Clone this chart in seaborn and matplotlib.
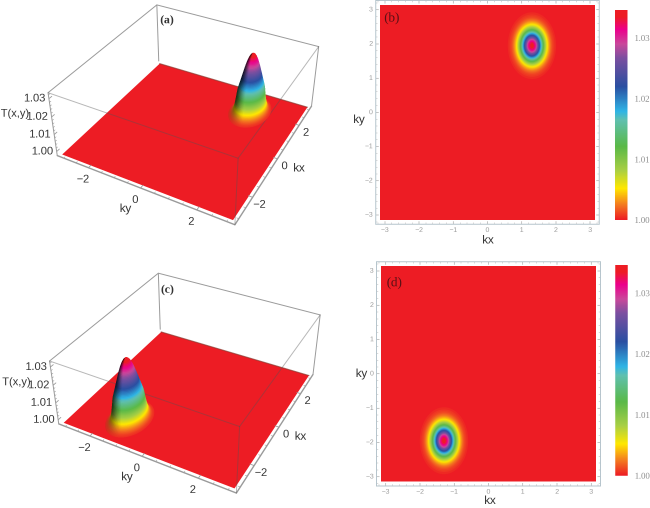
import io
import numpy as np
import seaborn as sns
import matplotlib
matplotlib.use("Agg")
import matplotlib.pyplot as plt
from matplotlib.colors import LinearSegmentedColormap, Normalize
from matplotlib.collections import PolyCollection
from matplotlib.patches import Ellipse

# ---- data ----
colour_values = [1.0, 1.0025, 1.0052, 1.0082, 1.0121, 1.0165, 1.0179, 1.022, 1.0267, 1.029, 1.0314, 1.0335, 1.0346]
colour_names = ["#ED1C24", "#F47B20", "#FFE800", "#A8CF45", "#5AB947", "#5FC0B0", "#2FB5E6", "#2A4FA2",
                "#7B4FA0", "#C9489B", "#EC008C", "#ED1C24", "#ED1C24"]
cbar_ticks = [1.00, 1.01, 1.02, 1.03]
cbar_labels = ["1.00", "1.01", "1.02", "1.03"]
T_min, T_max = 1.0, 1.0346

# contour rings of the peak: height and half-width along the short axis
ring_T = [1.0004, 1.0007, 1.0010, 1.0014, 1.0018, 1.0022, 1.0027, 1.0032, 1.0037, 1.0043, 1.0050, 1.0057, 1.0065,
          1.0074, 1.0083, 1.0092, 1.0102, 1.0112, 1.0123, 1.0134, 1.0146, 1.0158, 1.0170, 1.0182, 1.0194, 1.0206,
          1.0218, 1.0230, 1.0242, 1.0254, 1.0266, 1.0278, 1.0290, 1.0302, 1.0314, 1.0326, 1.0338, 1.0344]
ring_half = [.708, .662, .631, .600, .576, .556, .535, .517, .501, .484, .466, .450, .433,
             .416, .401, .386, .370, .356, .341, .327, .311, .297, .283, .269, .255, .241,
             .228, .214, .200, .186, .172, .157, .141, .124, .104, .082, .051, .026]
ring_aspect = 1.38

peak_b = (1.30, 1.95)     # kx, ky in panel (b)
peak_d = (-1.30, -1.95)   # kx, ky in panel (d)
peak_a = (1.40, 1.90)     # ky, kx in panel (a)
peak_c = (-1.30, -1.95)   # ky, kx in panel (c)

ticks_2d = [-3, -2, -1, 0, 1, 2, 3]
ticks_2d_labels = ["\u22123", "\u22122", "\u22121", "0", "1", "2", "3"]
ticks_3d = [-2, 0, 2]
ticks_3d_labels = ["\u22122", "0", "2"]
ticks_z = [1.00, 1.01, 1.02, 1.03]
ticks_z_labels = ["1.00", "1.01", "1.02", "1.03"]

# ---- layout ----
W, H = 650, 508
BOX = 3.27
Z_LO, Z_HI = 0.99758, 1.03320
corners_px = {   # (ky sign, kx sign, z level) -> pixel position in panel (a)
    (-1, -1, 0): (57.3, 156.0), (1, -1, 0): (235.3, 225.7), (1, 1, 0): (310.5, 105.5), (-1, 1, 0): (159.3, 60.5),
    (-1, -1, 1): (48.3, 92.7), (1, -1, 1): (237.3, 156.7), (1, 1, 1): (320.0, 47.7), (-1, 1, 1): (156.0, 5.0),
}
shift_c = (1.5, 268.3)
surface_drop = 4.0
facet_steps = 2
SUPER = 4

sns.set_theme(style="white")
plt.rcParams["font.family"] = ["Liberation Sans", "DejaVu Sans"]

cmap = LinearSegmentedColormap.from_list(
    "rainbow_t", [((v - T_min) / (T_max - T_min), c) for v, c in zip(colour_values, colour_names)], N=512)
norm = Normalize(T_min, T_max)

fig = plt.figure(figsize=(W / 100, H / 100), dpi=100)
overlay = fig.add_axes([0, 0, 1, 1])
overlay.set_xlim(0, W)
overlay.set_ylim(H, 0)
overlay.axis("off")


def fit_projection():
    rows, rhs = [], []
    for (a, b, c), (u, v) in corners_px.items():
        X = [a, b, 2 * c - 1, 1]
        rows.append(X + [0, 0, 0, 0] + [-u * x for x in X[:3]])
        rhs.append(u)
        rows.append([0, 0, 0, 0] + X + [-v * x for x in X[:3]])
        rhs.append(v)
    p = np.linalg.lstsq(np.array(rows, float), np.array(rhs, float), rcond=None)[0]
    return np.append(p, 1.0).reshape(3, 4)


PROJ = fit_projection()


def project(ky, kx, z, shift=(0, 0)):
    ky, kx, z = np.broadcast_arrays(np.asarray(ky, float), np.asarray(kx, float), np.asarray(z, float))
    X = np.stack([ky / BOX, kx / BOX, 2 * (z - Z_LO) / (Z_HI - Z_LO) - 1, np.ones_like(ky)])
    q = PROJ @ X.reshape(4, -1)
    return np.stack([q[0] / q[2] + shift[0], q[1] / q[2] + shift[1]], axis=-1).reshape(ky.shape + (2,))


def panel3d(peak, tag, tag_xy, shift=(0, 0)):
    grey = "#9a9a9a"
    P = lambda a, b, c: project(a, b, c, shift)
    S = lambda a, b, c: project(a, b, c, (shift[0], shift[1] + surface_drop))

    def seg(p, q, **kw):
        kw.setdefault("color", grey)
        kw.setdefault("lw", 0.7)
        pts = np.array([P(*p), P(*q)])
        overlay.plot(pts[:, 0], pts[:, 1], solid_capstyle="round", **kw)

    B = BOX
    # rear edges of the box
    for p, q in [((-B, B, Z_LO), (-B, B, Z_HI)), ((-B, B, Z_HI), (B, B, Z_HI)), ((-B, B, Z_HI), (-B, -B, Z_HI)),
                 ((-B, -B, Z_LO), (-B, -B, Z_HI)), ((B, B, Z_LO), (B, B, Z_HI))]:
        seg(p, q, zorder=1)
    seg((-B, -B, Z_LO), (B, -B, Z_LO), zorder=1, lw=1.0)
    seg((B, -B, Z_LO), (B, B, Z_LO), zorder=1, lw=1.0)

    # red floor
    fl = [S(-np.pi, -np.pi, 1.0), S(np.pi, -np.pi, 1.0), S(np.pi, np.pi, 1.0), S(-np.pi, np.pi, 1.0)]
    overlay.add_patch(plt.Polygon(fl, closed=True, fc=cmap(norm(1.0)), ec="none", zorder=2))
    # dark back rim of the floor
    rim = np.array([fl[3], fl[2]])
    overlay.plot(rim[:, 0], rim[:, 1], color="#8a3a30", lw=0.8, alpha=0.7, zorder=2.1)

    # front edges seen through the floor
    for p, q in [((-B, -B, Z_HI), (B, -B, Z_HI)), ((B, -B, Z_HI), (B, B, Z_HI)), ((B, -B, Z_LO), (B, -B, Z_HI))]:
        seg(p, q, zorder=2.5, color="#555555", alpha=0.42)

    # peak, drawn from the base upward; the 3D view shows a fuller shoulder than the flat map
    th = np.linspace(0, 2 * np.pi, 73)
    cy, cx = peak
    widths = [h * (1 + min((T - T_min) / (T_max - T_min) * 1.0, 0.42)) for T, h in zip(ring_T, ring_half)]

    def ring(T, h):
        return S(cy + h * np.cos(th), cx + ring_aspect * h * np.sin(th), np.full_like(th, T))

    quads, cols = [], []
    n = len(ring_T) - 1
    for i in range(n):
        strength = 0.12 + 0.62 * min(i / 14, 1.0)
        for f in range(facet_steps):
            a, b = f / facet_steps, (f + 1) / facet_steps
            T0 = ring_T[i] + a * (ring_T[i + 1] - ring_T[i])
            T1 = ring_T[i] + b * (ring_T[i + 1] - ring_T[i])
            h0 = widths[i] + a * (widths[i + 1] - widths[i])
            h1 = widths[i] + b * (widths[i + 1] - widths[i])
            r0, r1 = ring(T0, h0), ring(T1, h1)
            ctr = r0.mean(axis=0)
            span = np.abs(r0[:, 0] - ctr[0]).max()
            rgb = np.array(cmap(norm((T0 + T1) / 2))[:3])
            for j in range(len(th) - 1):
                quads.append([r0[j], r0[j + 1], r1[j + 1], r1[j]])
                s = ((r0[j, 0] + r0[j + 1, 0]) / 2 - ctr[0]) / span
                shade = 1 - strength * np.clip((-s - 0.4) / 0.6, 0, 1) ** 1.5
                cols.append(np.append(rgb * shade, 1.0))
    overlay.add_collection(PolyCollection(quads, facecolors=cols, edgecolors=cols, linewidths=0.2,
                                          antialiaseds=False, zorder=3))
    overlay.add_patch(plt.Polygon(ring(ring_T[-1], widths[-1]), closed=True, fc=cmap(norm(ring_T[-1])), ec="none", zorder=3.1))

    # ticks and their labels
    for t, lab in zip(ticks_3d, ticks_3d_labels):
        seg((t, -B, Z_LO), (t, -B + 0.14, Z_LO), zorder=2.6, lw=0.6)
        u, v = P(t, -B, Z_LO)
        overlay.text(u - 5.5, v + 12, lab, fontsize=8, color="#333333", ha="center", va="center")
        seg((B, t, Z_LO), (B - 0.14, t, Z_LO), zorder=2.6, lw=0.6)
        u, v = P(B, t, Z_LO)
        overlay.text(u + 7, v + 7.5, lab, fontsize=8, color="#333333", ha="center", va="center")
    for t in np.arange(-3, 3.01, 0.5):
        seg((t, -B, Z_LO), (t, -B + 0.07, Z_LO), zorder=2.6, lw=0.4)
        seg((B, t, Z_LO), (B - 0.07, t, Z_LO), zorder=2.6, lw=0.4)
    for t, lab in zip(ticks_z, ticks_z_labels):
        seg((-B, -B, t), (-B, -B + 0.14, t), zorder=1.5, lw=0.6)
        u, v = P(-B, -B, t)
        overlay.text(u - 3.5, v, lab, fontsize=8, color="#333333", ha="right", va="center")
    for t in np.arange(1.0, 1.0321, 0.002):
        seg((-B, -B, t), (-B, -B + 0.07, t), zorder=1.5, lw=0.4)

    lx = 0 + shift[0]
    ly = shift[1]
    overlay.text(lx + 15, ly + 114, "T(x,y)", fontsize=8, color="#333333", ha="center", va="center")
    overlay.text(lx + 125.5, ly + 209, "ky", fontsize=8.5, color="#333333", ha="center", va="center")
    overlay.text(lx + 299, ly + 168.5, "kx", fontsize=8.5, color="#333333", ha="center", va="center")
    overlay.text(tag_xy[0], tag_xy[1], tag, family="Liberation Serif", fontsize=8.5, fontweight="bold",
                 color="#333333", ha="center", va="center")


def cell(k):
    return (np.asarray(k, float) + np.pi) / np.pi


def panel2d(peak, tag, tag_xy, frame, cbar, xlabel_xy, ylabel_xy):
    x0, y0, x1, y1 = frame
    ax = fig.add_axes([x0 / W, 1 - y1 / H, (x1 - x0) / W, (y1 - y0) / H])
    cx0, cy0, cx1, cy1 = cbar
    cax = fig.add_axes([cx0 / W, 1 - cy1 / H, (cx1 - cx0) / W, (cy1 - cy0) / H])
    base = np.full((2, 2), T_min)
    sns.heatmap(base, ax=ax, cbar_ax=cax, cmap=cmap, vmin=T_min, vmax=T_max)
    ax.set_xlim(cell(-BOX), cell(BOX))
    ax.set_ylim(cell(-BOX), cell(BOX))
    ax.set_facecolor("white")
    for T, h in zip(ring_T, ring_half):
        ax.add_patch(Ellipse((cell(peak[0]), cell(peak[1])), 2 * h / np.pi, 2 * h * ring_aspect / np.pi,
                             fc=cmap(norm(T)), ec="none"))
    for sp in ax.spines.values():
        sp.set_visible(True)
        sp.set_color("#b5c4cc")
        sp.set_linewidth(0.7)
    ax.set_xticks(cell(ticks_2d), ticks_2d_labels, rotation=0)
    ax.set_yticks(cell(ticks_2d), ticks_2d_labels, rotation=0)
    minor = cell(np.arange(-3.2, 3.21, 0.2))
    ax.set_xticks(minor, minor=True)
    ax.set_yticks(minor, minor=True)
    ax.tick_params(which="major", direction="in", length=2.2, width=0.4, color="#999999", labelsize=5,
                   labelcolor="#9a9a9a", top=True, right=True, bottom=True, left=True, pad=2)
    ax.tick_params(which="minor", direction="in", length=1.2, width=0.3, color="#aaaaaa",
                   top=True, right=True, bottom=True, left=True)
    ax.set_xlabel("kx", fontsize=8.5, color="#333333")
    ax.set_ylabel("ky", fontsize=8.5, color="#333333", rotation=0, va="center", ha="center")
    ax.xaxis.set_label_coords(*xlabel_xy, transform=overlay.transData)
    ax.yaxis.set_label_coords(*ylabel_xy, transform=overlay.transData)
    ax.xaxis.label.set_va("center")
    ax.text(cell(tag_xy[0]), cell(tag_xy[1]), tag, family="Liberation Serif", fontsize=9.5, color="#5a1015",
            ha="center", va="center")

    cb = ax.collections[0].colorbar
    cb.outline.set_visible(False)
    cb.set_ticks(cbar_ticks, labels=cbar_labels)
    cax.tick_params(length=0, labelsize=6.3, labelcolor="#8c8c8c", pad=5)
    for lab in cax.get_yticklabels():
        lab.set_family("Liberation Serif")


panel3d(peak_a, "(a)", (167, 20.5))
panel3d(peak_c, "(c)", (167.5, 290), shift_c)
panel2d(peak_b, "(b)", (-2.8, 2.75), (375.7, 0.5, 599.3, 224.3), (615, 10, 627.5, 220), (488, 240.5), (359, 120))
panel2d(peak_d, "(d)", (-2.75, 2.65), (376.5, 261.7, 600.5, 486), (615.3, 265, 627.7, 475.7), (490, 501), (361.7, 374))

# render at four times the size and average down, which removes seams between the thin facets
buf = io.BytesIO()
fig.savefig(buf, dpi=100 * SUPER, format="png")
buf.seek(0)
big = plt.imread(buf)[:, :, :3]
small = big.reshape(H, SUPER, W, SUPER, 3).mean(axis=(1, 3))
fig.savefig("out.png", dpi=100)
plt.imsave("out.png", np.clip(small, 0, 1))
